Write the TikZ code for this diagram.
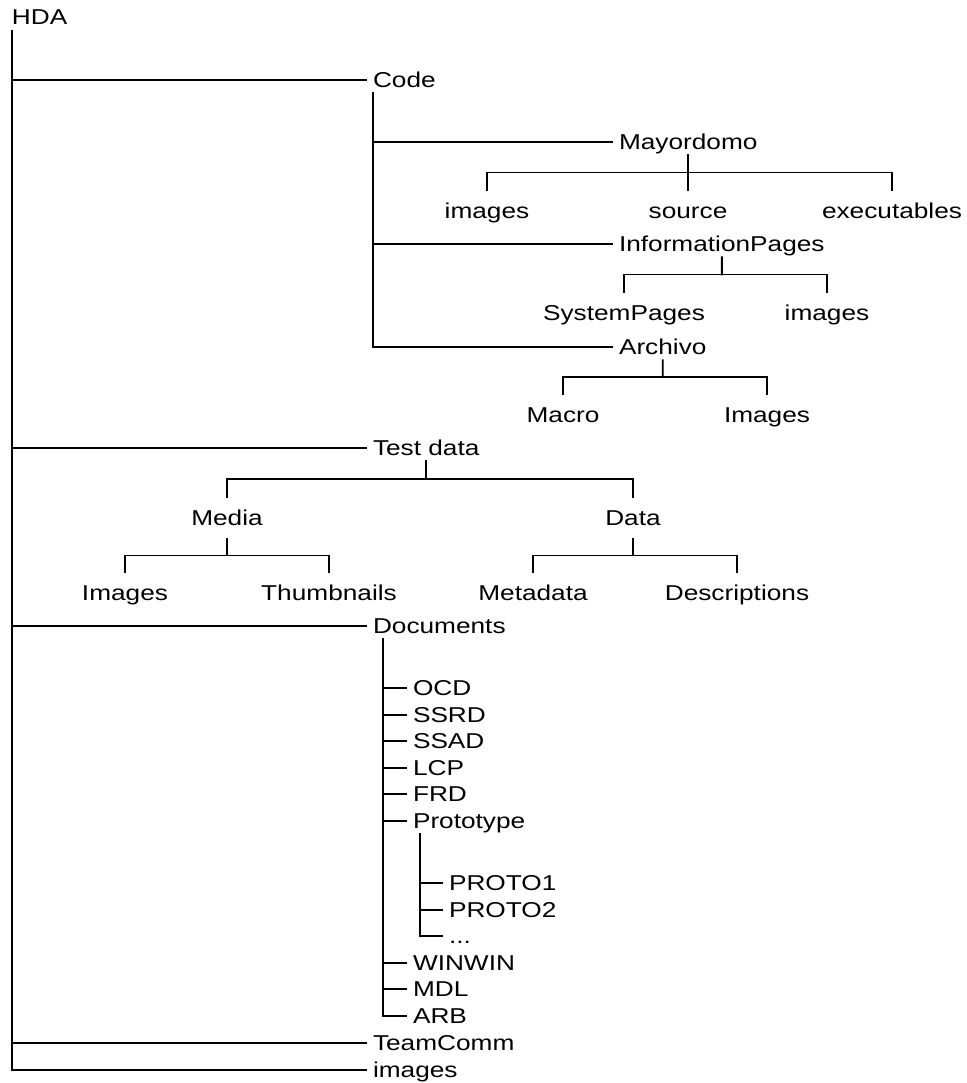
\documentclass[tikz,border=0pt]{standalone}
\usepackage{fontspec}
\setmainfont{Liberation Sans}[FakeStretch=1.22]
\usetikzlibrary{calc}
\tikzset{
  lbl/.style={inner sep=0pt, outer xsep=0pt, outer ysep=6pt, text height=14.8pt, text depth=0pt,
    font=\fontsize{21.5}{25}\selectfont, anchor=west},
  kid/.style={lbl, outer ysep=14pt, anchor=center},
  branch/.style={shorten >=7pt},
}
\begin{document}
\begin{tikzpicture}[x=1pt, y=-1pt, line width=1.9pt, line cap=rect]
\useasboundingbox (0,0) rectangle (966,1083);

% root
\node[lbl] (hda) at (12,17.5) {HDA};

% level 1
\node[lbl] (code) at (373,80) {Code};
\node[lbl] (test) at (373,448) {Test data};
\node[lbl] (docs) at (373,626) {Documents};
\node[lbl] (team) at (373,1043) {TeamComm};
\node[lbl] (imgs) at (373,1070) {images};

% Code children
\node[lbl] (may) at (619,142) {Mayordomo};
\node[lbl] (ip) at (619,244) {InformationPages};
\node[lbl] (arch) at (619,347) {Archivo};

\node[kid] (mimg) at (487,211) {images};
\node[kid] (msrc) at (688,211) {source};
\node[kid] (mexe) at (892,211) {executables};

\node[kid] (sysp) at (624,313) {SystemPages};
\node[kid] (iimg) at (827,313) {images};

\node[kid] (macro) at (563,415) {Macro};
\node[kid] (aimg) at (767,415) {Images};

% Test data children
\node[kid] (media) at (227,518) {Media};
\node[kid] (data) at (633,518) {Data};
\node[kid] (timg) at (125,593) {Images};
\node[kid] (thumb) at (329,593) {Thumbnails};
\node[kid] (meta) at (533,593) {Metadata};
\node[kid] (desc) at (737,593) {Descriptions};

% Documents children
\node[lbl] (ocd) at (413,688) {OCD};
\node[lbl] (ssrd) at (413,714.6) {SSRD};
\node[lbl] (ssad) at (413,741.2) {SSAD};
\node[lbl] (lcp) at (413,767.8) {LCP};
\node[lbl] (frd) at (413,794.4) {FRD};
\node[lbl] (proto) at (413,821) {Prototype};
\node[lbl] (p1) at (449,883) {PROTO1};
\node[lbl] (p2) at (449,909.6) {PROTO2};
\node[lbl] (pdots) at (449,936.2) {...};
\node[lbl] (win) at (413,962.8) {WINWIN};
\node[lbl] (mdl) at (413,989.4) {MDL};
\node[lbl] (arb) at (413,1016) {ARB};

% root trunk
\draw[branch] (hda.south west) |- (imgs.west);
\foreach \n in {code,test,docs,team}
  \draw[branch] (hda.south west |- \n.west) -- (\n.west);

% Code trunk
\draw[branch] (code.south west) |- (arch.west);
\draw[branch] (code.south west |- may.west) -- (may.west);
\draw[branch] (code.south west |- ip.west) -- (ip.west);

% Mayordomo bracket
\coordinate (mayb) at ($(may.south)!0.5!(may.south |- mimg.north)$);
\draw (may.south) -- (mayb);
\draw (mimg.north) |- (mayb) -| (mexe.north);
\draw (mayb) -- (mayb |- msrc.north);

% InformationPages bracket
\coordinate (ipb) at ($(ip.south)!0.5!(ip.south |- sysp.north)$);
\draw (ip.south) -- (ipb);
\draw (sysp.north) |- (ipb) -| (iimg.north);

% Archivo bracket
\coordinate (archb) at ($(arch.south)!0.5!(arch.south |- macro.north)$);
\draw (arch.south) -- (archb);
\draw (macro.north) |- (archb) -| (aimg.north);

% Test data bracket
\coordinate (testb) at ($(test.south)!0.5!(test.south |- media.north)$);
\draw (test.south) -- (testb);
\draw (media.north) |- (testb) -| (data.north);

% Media bracket
\coordinate (mediab) at ($(media.south)!0.5!(media.south |- timg.north)$);
\draw (media.south) -- (mediab);
\draw (timg.north) |- (mediab) -| (thumb.north);

% Data bracket
\coordinate (datab) at ($(data.south)!0.5!(data.south |- meta.north)$);
\draw (data.south) -- (datab);
\draw (meta.north) |- (datab) -| (desc.north);

% Documents trunk
\coordinate (dt) at ([xshift=10pt]docs.south west);
\draw[branch] (dt) |- (arb.west);
\foreach \n in {ocd,ssrd,ssad,lcp,frd,proto,win,mdl}
  \draw[branch] (dt |- \n.west) -- (\n.west);

% Prototype trunk
\coordinate (pt) at ([xshift=7pt]proto.south west);
\draw[branch] (pt) |- (pdots.west);
\draw[branch] (pt |- p1.west) -- (p1.west);
\draw[branch] (pt |- p2.west) -- (p2.west);
\end{tikzpicture}
\end{document}
